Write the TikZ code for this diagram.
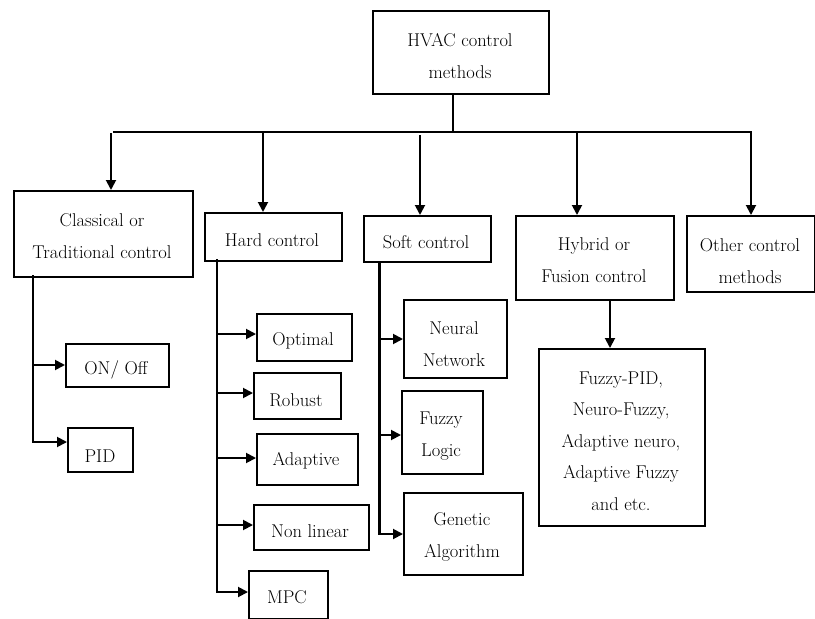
\documentclass[tikz,border=0pt]{standalone}
\usetikzlibrary{arrows.meta}
\begin{document}
\begin{tikzpicture}[x=1pt,y=-1pt,
  box/.style={draw=black,line width=1.9pt,rectangle,inner sep=0pt},
  txt/.style={font=\fontsize{18.5}{31.5}\selectfont,align=center,inner sep=0pt},
  conn/.style={line width=1.9pt,line cap=rect},
  arr/.style={line width=1.9pt,-{Triangle[length=10pt,width=10pt]}}]
\useasboundingbox (0,0) rectangle (815,619);
% boxes: name, corners
\newcommand{\mybox}[5]{\node[box,anchor=north west,minimum width=#4-#2,minimum height=#5-#3] (#1) at (#2,#3) {};}
\mybox{hvac}{372}{10}{548}{93}
\mybox{cls}{13}{190}{192}{276}
\mybox{hard}{204}{212}{341}{260}
\mybox{soft}{363}{215}{490}{261}
\mybox{hyb}{515}{215}{673}{299}
\mybox{oth}{686}{215}{813.5}{291}
\mybox{onoff}{65}{343}{168}{386}
\mybox{pid}{67}{427}{132}{471}
\mybox{opt}{256}{313}{351}{360}
\mybox{rob}{253}{372}{340}{418}
\mybox{ada}{256}{433}{357}{484}
\mybox{nonl}{253}{504}{368}{549}
\mybox{mpc}{248}{570}{327}{617.5}
\mybox{neur}{403}{299}{506}{377}
\mybox{fuzz}{401}{390}{482}{473}
\mybox{gen}{403}{492}{522}{574}
\mybox{res}{538}{348}{704}{525}
% texts
\node[txt] (hvac-t) at (460,56) {HVAC control\\methods};
\node[txt] (cls-t) at (102,236) {Classical or\\Traditional control};
\node[txt] (hard-t) at (272,240) {Hard control};
\node[txt] (soft-t) at (426,242) {Soft control};
\node[txt] (hyb-t) at (594,260) {Hybrid or\\Fusion control};
\node[txt] (oth-t) at (750,261) {Other control\\methods};
\node[txt] (onoff-t) at (116,370) {ON/ Off};
\node[txt] (pid-t) at (100,456) {PID};
\node[txt] (opt-t) at (303,341) {Optimal};
\node[txt] (rob-t) at (296,400) {Robust};
\node[txt] (ada-t) at (306,461) {Adaptive};
\node[txt] (nonl-t) at (310,531) {Non linear};
\node[txt] (mpc-t) at (287,597) {MPC};
\node[txt] (neur-t) at (454,344) {Neural\\Network};
\node[txt] (fuzz-t) at (441,436) {Fuzzy\\Logic};
\node[txt] (gen-t) at (462,537) {Genetic\\Algorithm};
\node[txt] (res-t) at (621,441) {Fuzzy-PID,\\Neuro-Fuzzy,\\Adaptive neuro,\\Adaptive Fuzzy\\and etc.};
% top tree
\coordinate (stem) at (453,93);
\coordinate (busL) at (113,132);
\coordinate (busM) at (453,132);
\coordinate (busR) at (752,132);
\draw[line width=1.6pt] (stem) -- (busM);
\draw[line width=2.8pt] (busL) -- (busM);
\draw[line width=1.7pt] (busM) -- (busR);
\coordinate (a1) at (111,133);
\coordinate (a2) at (263,131);
\coordinate (a3) at (420,135);
\coordinate (a4) at (577,133);
\coordinate (a5) at (751,132);
\draw[arr] (a1) -- (a1 |- cls.north);
\draw[arr] (a2) -- (a2 |- hard.north);
\draw[arr] (a3) -- (a3 |- soft.north);
\draw[arr] (a4) -- (a4 |- hyb.north);
\draw[arr] (a5) -- (a5 |- oth.north);
% hybrid -> result
\coordinate (h1) at (610,299);
\draw[arr] (h1) -- (h1 |- res.north);
% classical branch
\coordinate (c1) at (33,276);
\draw[conn] (c1) -- (33,442);
\draw[arr] (33,365) -- (onoff.west |- 0,365);
\draw[arr] (33,442) -- (pid.west |- 0,442);
% hard branch
\coordinate (k1) at (217,260);
\draw[conn,line width=2.1pt] (k1) -- (217,592);
\draw[arr] (217,334) -- (opt.west |- 0,334);
\draw[arr] (217,393) -- (rob.west |- 0,393);
\draw[arr] (217,458) -- (ada.west |- 0,458);
\draw[arr] (217,525) -- (nonl.west |- 0,525);
\draw[arr] (217,592) -- (mpc.west |- 0,592);
% soft branch
\coordinate (s1) at (379,261);
\draw[line width=3pt] (s1) -- (379,535);
\draw[arr] (379,339) -- (neur.west |- 0,339);
\draw[arr] (379,435) -- (fuzz.west |- 0,435);
\draw[arr] (379,534) -- (gen.west |- 0,534);
\end{tikzpicture}
\end{document}
